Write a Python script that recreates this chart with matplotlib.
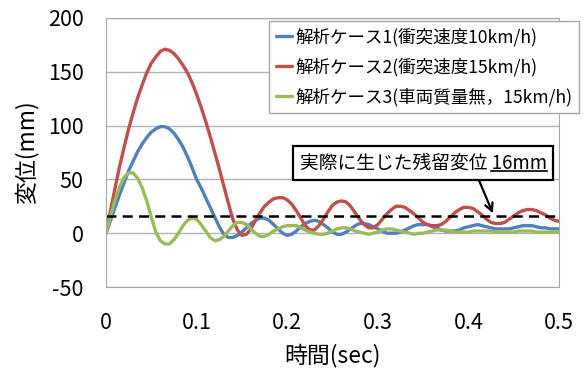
import numpy as np
import matplotlib
matplotlib.use("Agg")
import matplotlib.pyplot as plt
from matplotlib.lines import Line2D
from matplotlib.text import Text

plt.rcParams['font.family'] = ['Noto Sans CJK JP', 'DejaVu Sans']
plt.rcParams['axes.unicode_minus'] = False

# time axis, 5 ms step
t = np.round(np.arange(101) * 0.005, 3)

case1 = [0, 12, 24, 36, 47, 58, 67, 76, 83, 89,
         94, 97, 99, 99, 97, 93, 87, 80, 71, 61,
         50, 42, 33, 24, 15, 6, -1, -4, -4, -2,
         1, 5, 9, 12, 14, 14, 12, 8, 4, 0,
         -2, -1, 2, 6, 9, 11, 12, 11, 8, 5,
         1, -1, -1, 1, 4, 7, 9, 9, 8, 6,
         4, 2, 0, 0, 0, 1, 3, 5, 7, 8,
         8, 8, 6, 5, 3, 2, 2, 2, 3, 5,
         6, 7, 8, 7, 6, 5, 4, 4, 4, 4,
         5, 6, 7, 7, 7, 6, 5, 5, 4, 4,
         4]
case2 = [0, 21, 42, 62, 80, 97, 112, 126, 138, 149,
         158, 164, 169, 171, 170, 167, 162, 156, 149, 140,
         129, 117, 104, 90, 75, 60, 44, 28, 13, 3,
         -2, -1, 4, 12, 19, 25, 29, 32, 33, 33,
         31, 27, 21, 14, 7, 3, 3, 7, 13, 20,
         26, 29, 30, 29, 25, 19, 13, 8, 5, 5,
         8, 13, 18, 22, 25, 25, 24, 21, 18, 14,
         10, 8, 7, 7, 8, 11, 15, 19, 22, 24,
         24, 23, 20, 17, 13, 10, 9, 9, 10, 13,
         16, 19, 21, 22, 22, 21, 19, 17, 14, 12,
         11]
case3 = [0, 16, 31, 43, 52, 56, 56, 51, 42, 30,
         15, 1, -7, -10, -10, -6, 0, 7, 12, 14,
         13, 8, 2, -4, -7, -6, -3, 2, 7, 10,
         10, 8, 4, 0, -3, -3, -1, 2, 4, 6,
         7, 7, 7, 5, 3, 1, 0, -1, -1, 0,
         2, 4, 5, 5, 4, 2, 1, 0, -1, 0,
         1, 3, 4, 4, 3, 2, 1, 0, -1, 0,
         0, 1, 2, 3, 3, 3, 2, 1, 1, 1,
         1, 2, 2, 2, 2, 2, 1, 1, 1, 1,
         1, 2, 2, 2, 2, 1, 1, 1, 1, 1,
         1]

labels = ['解析ケース1(衝突速度10km/h)',
          '解析ケース2(衝突速度15km/h)',
          '解析ケース3(車両質量無，15km/h)']
colors = ['#4F81BD', '#C0504D', '#9BBB59']
residual = 16  # measured residual displacement (mm)

fig = plt.figure(figsize=(5.84, 3.70), dpi=100)
ax = fig.add_axes([106 / 584, 1 - 287 / 370, 453 / 584, 269 / 370])

for y, c, lab in zip([case1, case2, case3], colors, labels):
    ax.plot(t, y, color=c, lw=2.4, label=lab, solid_capstyle='round')

ax.axhline(residual, color='black', lw=1.8, ls=(0, (4, 2.5)))

ax.set_xlim(0, 0.5)
ax.set_ylim(-50, 200)
ax.set_xticks([0, 0.1, 0.2, 0.3, 0.4, 0.5])
ax.set_xticklabels(['0', '0.1', '0.2', '0.3', '0.4', '0.5'])
ax.set_yticks([-50, 0, 50, 100, 150, 200])
ax.tick_params(axis='both', length=0, labelsize=15.5)
ax.tick_params(axis='x', pad=18)
ax.tick_params(axis='y', pad=16)
ax.yaxis.grid(True, color='#b3b3b3', lw=1)
ax.set_axisbelow(True)
for s in ax.spines.values():
    s.set_color('#a6a6a6')

ax.set_xlabel('時間(sec)', fontsize=16.5)
ax.set_ylabel('変位(mm)', fontsize=16.5)
ax.xaxis.set_label_coords(0.5, -0.21)
ax.yaxis.set_label_coords(-0.15, 0.5)

leg = ax.legend(loc='upper left', bbox_to_anchor=(269 / 584, 1 - 21 / 370),
                bbox_transform=fig.transFigure, fontsize=12.6,
                handlelength=0.9, handletextpad=0.2, labelspacing=0.65,
                borderpad=0.4, borderaxespad=0, fancybox=False,
                framealpha=1, edgecolor='#a6a6a6')
leg.get_frame().set_linewidth(1)

ann = ax.annotate('実際に生じた残留変位 16mm', xy=(0.427, 18.5),
                  xytext=(0.350, 65), ha='center', va='center', fontsize=13.5,
                  bbox=dict(boxstyle='square,pad=0.35', fc='white', ec='black', lw=1.6),
                  arrowprops=dict(arrowstyle='->', color='black', lw=1.6,
                                  shrinkA=0, shrinkB=0, mutation_scale=14,
                                  relpos=(0.715, 0)))

# underline the value part of the annotation (text extent only, no arrow)
fig.canvas.draw()
r = fig.canvas.get_renderer()
box = Text.get_window_extent(ann, r)
tmp = fig.text(0, 0, '16mm', fontsize=13.5)
w = tmp.get_window_extent(r).width
tmp.remove()
W, H = fig.bbox.width, fig.bbox.height
uy = (box.y0 + 3) / H
fig.add_artist(Line2D([(box.x1 - w) / W, box.x1 / W], [uy, uy],
                      transform=fig.transFigure, color='black', lw=1.2,
                      zorder=10, clip_on=False))

fig.savefig('out.png', dpi=100)
